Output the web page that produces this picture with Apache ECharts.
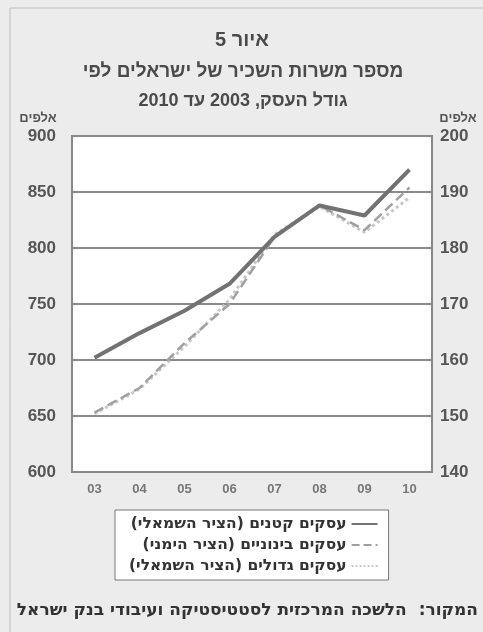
<!DOCTYPE html>
<html dir="rtl" lang="he">
<head>
<meta charset="utf-8">
<script src="https://cdn.jsdelivr.net/npm/echarts@6/dist/echarts.min.js"></script>
<style>
html,body{margin:0;padding:0;background:#ececec;}
#c{width:483px;height:632px;position:absolute;left:0;top:0;}
</style>
</head>
<body>
<div id="c"></div>
<script>
const years = ['03','04','05','06','07','08','09','10'];
const leftTicks = [600, 900, 50];   // min, max, interval (אלפים)
const rightTicks = [140, 200, 10];
const smallBiz = [702, 724, 744, 768, 810, 838, 829, 870];        // left axis
const mediumBiz = [150.6, 155, 163, 170, 182, 187.6, 183.2, 190.8]; // right axis
const largeBiz = [652, 674, 712, 754, 812, 837, 814, 845];         // left axis
const names = ['עסקים קטנים (הציר השמאלי)', 'עסקים בינוניים (הציר הימני)', 'עסקים גדולים (הציר השמאלי)'];
const titleLines = ['איור 5', 'מספר משרות השכיר של ישראלים לפי', 'גודל העסק, 2003 עד 2010'];
const unit = 'אלפים';
const source = 'המקור:  הלשכה המרכזית לסטטיסטיקה ועיבודי בנק ישראל';

const FONT = "'Liberation Sans', Arial, sans-serif";
const HFONT = "'DejaVu Sans', sans-serif";
const chart = echarts.init(document.getElementById('c'), null, {renderer: 'canvas'});
chart.setOption({
  backgroundColor: '#ececec',
  animation: false,
  graphic: [
    {type: 'rect', shape: {x: 10, y: 8, width: 480, height: 640}, style: {fill: 'none', stroke: '#bdbdbd', lineWidth: 1}},
    {type: 'text', x: 242, y: 40, style: {text: titleLines[0], font: "bold 20px " + FONT, fill: '#4a4a4a', textAlign: 'center', textVerticalAlign: 'middle'}},
    {type: 'text', x: 243, y: 72, style: {text: titleLines[1], font: "bold 19px " + FONT, fill: '#4a4a4a', textAlign: 'center', textVerticalAlign: 'middle'}},
    {type: 'text', x: 243, y: 101, style: {text: titleLines[2], font: "bold 18px " + FONT, fill: '#4a4a4a', textAlign: 'center', textVerticalAlign: 'middle'}},
    {type: 'text', x: 38, y: 118, style: {text: unit, font: "bold 13px " + FONT, fill: '#555', textAlign: 'center', textVerticalAlign: 'middle'}},
    {type: 'text', x: 458, y: 118, style: {text: unit, font: "bold 13px " + FONT, fill: '#555', textAlign: 'center', textVerticalAlign: 'middle'}},
    {type: 'text', x: 478, y: 611, style: {text: source, font: "bold 17px " + HFONT, fill: '#333', textAlign: 'right', textVerticalAlign: 'middle'}}
  ],
  legend: {
    orient: 'vertical', left: 115, top: 510, align: 'right',
    data: names,
    backgroundColor: '#fff', borderColor: '#777', borderWidth: 1,
    padding: [6, 10, 6, 14], itemWidth: 26, itemHeight: 10, itemGap: 5,
    itemStyle: {opacity: 0},
    textStyle: {fontFamily: HFONT, fontSize: 15.5, fontWeight: 'bold', color: '#333'}
  },
  grid: {left: 72, right: 51, top: 136, bottom: 160, show: true, backgroundColor: '#fff', borderColor: '#888', borderWidth: 2},
  xAxis: {
    type: 'category', data: years, boundaryGap: true,
    axisLine: {lineStyle: {color: '#888', width: 2}},
    axisTick: {inside: true, length: 6, lineStyle: {color: '#888', width: 1.5}},
    axisLabel: {fontFamily: FONT, fontSize: 13, fontWeight: 'bold', color: '#777', margin: 11}
  },
  yAxis: [
    {type: 'value', min: leftTicks[0], max: leftTicks[1], interval: leftTicks[2], position: 'left',
     axisLine: {show: true, lineStyle: {color: '#888', width: 2}}, axisTick: {show: false},
     splitLine: {lineStyle: {color: '#8a8a8a', width: 2}},
     axisLabel: {fontFamily: FONT, fontSize: 17, fontWeight: 'bold', color: '#555', margin: 16}},
    {type: 'value', min: rightTicks[0], max: rightTicks[1], interval: rightTicks[2], position: 'right',
     axisLine: {show: true, lineStyle: {color: '#888', width: 2}}, axisTick: {show: false},
     splitLine: {show: false},
     axisLabel: {fontFamily: FONT, fontSize: 17, fontWeight: 'bold', color: '#555', margin: 8}}
  ],
  series: [
    {name: names[0], type: 'line', yAxisIndex: 0, data: smallBiz, symbol: 'none', z: 3,
     lineStyle: {color: '#727272', width: 4}, itemStyle: {color: '#727272'}},
    {name: names[1], type: 'line', yAxisIndex: 1, data: mediumBiz, symbol: 'none', z: 2,
     lineStyle: {color: '#a0a0a0', width: 2.5, type: 'dashed'}, itemStyle: {color: '#a0a0a0'}},
    {name: names[2], type: 'line', yAxisIndex: 0, data: largeBiz, symbol: 'none', z: 1,
     lineStyle: {color: '#c8c8c8', width: 3, type: 'dotted'}, itemStyle: {color: '#c8c8c8'}}
  ]
});
</script>
</body>
</html>
